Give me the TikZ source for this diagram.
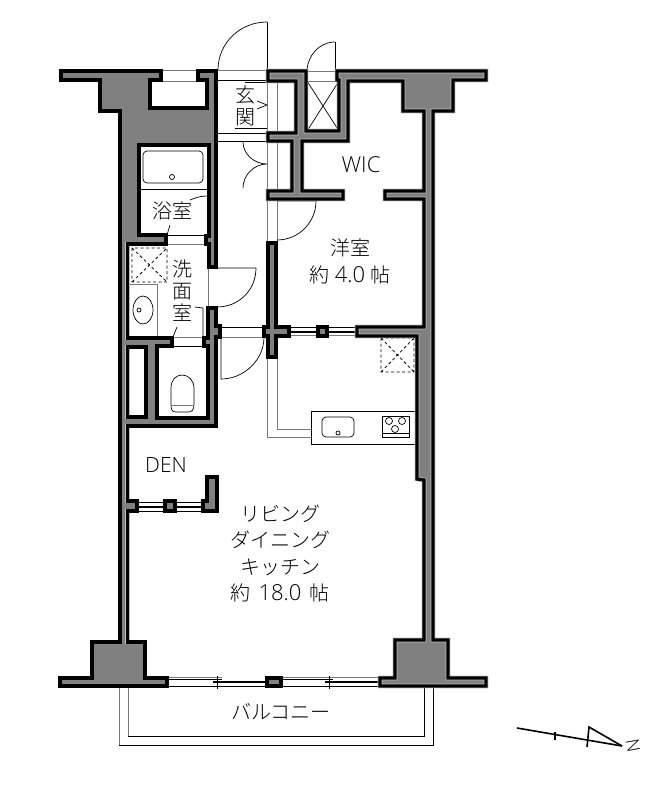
\documentclass[tikz,border=0pt]{standalone}
\usepackage{fontspec}
\IfFontExistsTF{Noto Sans CJK JP Light}{\setmainfont{Noto Sans CJK JP Light}}{\setmainfont{Noto Sans CJK JP}}
\IfFontExistsTF{Open Sans Light}{\newfontfamily\latinfont{Open Sans Light}}{\newfontfamily\latinfont{Open Sans}}
\definecolor{WallGray}{RGB}{128, 128, 128}
\definecolor{WallEdge}{RGB}{190, 190, 190}
\definecolor{ThinGray}{RGB}{120, 120, 120}
\newcommand{\digits}[2][5pt]{\hspace{#1}{\fontsize{22}{22}\selectfont\latinfont #2}\hspace{#1}}

\begin{document}
\begin{tikzpicture}[x=1pt, y=-1pt, every node/.style={font=\fontsize{20}{22}\selectfont, inner sep=0pt},
    wall/.style={even odd rule, fill=WallGray, draw=WallEdge, line width=4.6pt, postaction={draw=black, line width=3.2pt}},
    thin/.style={draw=black, line width=0.7pt},
    faint/.style={draw=ThinGray, line width=0.9pt},
    dashbox/.style={draw=black, line width=0.8pt, dash pattern=on 3pt off 2.5pt}]
    \useasboundingbox (0,0) rectangle (661,800);

    \draw[thin] (267,22) .. controls (240,22) and (218,43) .. (218,70);
    \draw[thin] (267,22) -- (267,70);
    \draw[faint] (162,70) -- (198,70) (162,81) -- (198,81);
    \draw[faint] (217,70) -- (267,70);
    \draw[thin] (217,80) -- (267,80) (217,133) -- (267,133) (217,141) -- (267,141);
    \draw[faint] (267,80) -- (267,243) (277,81) -- (277,243);
    \draw[thin] (245,82) -- (267,82) (235,128) -- (267,128);
    \draw[thin] (257,101) -- (267,105) -- (257,109);
    \draw[thin] (243,142) .. controls (243,154) and (254,164) .. (267,164) .. controls (254,164) and (243,175) .. (243,188);

    \draw[thin] (335,42) .. controls (319,42) and (307,56) .. (307,72);
    \draw[thin] (335,42) -- (335,72);
    \draw[faint] (307,71) -- (337,71) (307,81) -- (337,81);
    \draw[thin] (307,81) -- (339,131) (339,81) -- (307,131);
    \draw[thin] (277,201) -- (316,201) .. controls (316,222) and (299,240) .. (277,240);

    \draw[thin, rounded corners=4pt] (143,151) rectangle (203,183);
    \draw[thin] (172,177) circle (2.5);
    \draw[thin] (139,189) -- (208,189);
    \draw[thin] (207,196) .. controls (200,196) and (195,198) .. (190,200) (170,225) -- (167,235);
    \draw[thin] (167,235) -- (206,235);
    \draw[faint] (167,244) -- (206,244);

    \draw[dashbox] (132,248) rectangle (167,282) (132,282) -- (167,248) (132,248) -- (167,282);
    \draw[faint] (129,284) -- (157,284) -- (157,337);
    \draw[thin] (143,310) ellipse (10 and 14);
    \draw[thin] (139,310) circle (2);
    \draw[thin] (195,307) -- (203,308) -- (203,347) (177,327) -- (173,337);
    \draw[faint] (208,268) -- (208,307);
    \draw[thin] (217,268) -- (256,268) .. controls (256,290) and (239,307) .. (217,307);
    \draw[thin] (221,327) -- (264,327);
    \draw[faint] (173,337) -- (204,337) (221,337) -- (264,337);
    \draw[thin] (173,346) -- (204,346);
    \draw[thin] (221,337) -- (221,379) .. controls (244,379) and (264,360) .. (264,337);
    \draw[thin] (171,404) -- (171,388) .. controls (171,380) and (176,375) .. (182,375) .. controls (188,375) and (194,380) .. (194,388) -- (194,404) .. controls (194,410) and (192,412) .. (188,412) -- (176,412) .. controls (172,412) and (171,410) .. (171,404);
    \draw[faint] (171,405) -- (194,405);

    \draw[thin] (290,327) -- (318,327) (328,327) -- (357,327);
    \draw[draw=black, line width=1.3pt] (290,332) -- (318,332) (328,332) -- (357,332);
    \draw[faint] (290,335.5) -- (318,335.5) (328,335.5) -- (357,335.5);
    \draw[dashbox] (381,338) rectangle (414,372) (381,372) -- (414,338) (381,338) -- (414,372);
    \draw[faint] (267,357) -- (267,437) -- (311,437) (277,357) -- (277,429) -- (311,429);
    \draw[thin] (416,411) -- (311,411) -- (311,444) -- (416,444);
    \draw[thin, rounded corners=4pt] (322,417) rectangle (354,437);
    \draw[thin] (338,433) circle (2);
    \draw[thin] (382,416) rectangle (409,437);
    \draw[thin] (382,433) -- (409,433);
    \draw[thin] (389,421) circle (3.5) (402,421) circle (3.5) (395,429) circle (3.5);

    \draw[thin] (138,502) -- (165,502) (176,502) -- (203,502);
    \draw[draw=black, line width=1.2pt] (138,507) -- (165,507) (176,507) -- (203,507);
    \draw[thin] (138,511) -- (165,511) (176,511) -- (203,511);

    \draw[faint] (168,677) -- (222,677) (281,677) -- (379,677);
    \draw[draw=black, line width=1.1pt] (168,679.5) -- (222,679.5) (281,679.5) -- (333,679.5);
    \draw[draw=black, line width=1.2pt] (213,682) -- (266,682) (325,682) -- (380,682);
    \draw[thin] (168,686) -- (379,686);
    \draw[thin] (217,676) -- (217,689) (329,676) -- (329,689);
    \draw[faint] (119,687) -- (119,745);
    \draw[thin] (119,745) -- (433,745) -- (433,687);
    \draw[faint] (128,687) -- (128,736);
    \draw[thin] (128,736) -- (424,736) -- (424,687);

    \path[wall] (61,71) -- (161,71) -- (161,80) -- (150,80) -- (150,108) -- (207,108) -- (207,80) -- (198,80) -- (198,71) -- (216,71)
        -- (216,267) -- (209,267) -- (209,244) -- (206,244) -- (206,236) -- (209,236) -- (209,145) -- (139,145) -- (139,235)
        -- (166,235) -- (166,244) -- (127.5,244) -- (127.5,338) -- (172,338) -- (172,346) -- (157,346) -- (157,418) -- (208,418)
        -- (208,346) -- (204,346) -- (204,338) -- (208,338) -- (208,308) -- (216,308) -- (216,326) -- (220,326) -- (220,337)
        -- (216,337) -- (216,426) -- (127.5,426) -- (127.5,501) -- (137,501) -- (137,511) -- (127.5,511) -- (127.5,642) -- (145,642)
        -- (145,678) -- (167,678) -- (167,686) -- (60,686) -- (60,678) -- (92,678) -- (92,642) -- (120,642) -- (120,111)
        -- (100,111) -- (100,80) -- (61,80) -- cycle
        (127.5,347) -- (146,347) -- (146,417) -- (127.5,417) -- cycle;
    \path[wall] (165,501) rectangle (175,511);
    \path[wall] (207,477) -- (217,477) -- (217,511) -- (203,511) -- (203,501) -- (207,501) -- cycle;
    \path[wall] (267,678) rectangle (281,686);
    \path[wall] (268,71) -- (306,71) -- (306,131) -- (339,131) -- (339,80) -- (337,80) -- (337,71) -- (486,71) -- (486,80) -- (453,80)
        -- (453,111) -- (433,111) -- (433,640) -- (448,640) -- (448,678) -- (486,678) -- (486,686) -- (380,686) -- (380,678)
        -- (395,678) -- (395,640) -- (424,640) -- (424,480) -- (417,479) -- (417,336) -- (357,336) -- (357,327) -- (424,327)
        -- (424,199) -- (385,199) -- (385,191) -- (424,191) -- (424,111) -- (403,111) -- (403,81) -- (348,81) -- (348,141)
        -- (302,141) -- (302,191) -- (343,191) -- (343,199) -- (268,199) -- (268,191) -- (292,191) -- (292,141) -- (268,141)
        -- (268,133) -- (296,133) -- (296,81) -- (268,81) -- cycle;
    \path[wall] (268,243) -- (276,243) -- (276,327) -- (289,327) -- (289,336) -- (276,336) -- (276,357) -- (268,357) -- (268,336)
        -- (264,336) -- (264,327) -- (268,327) -- cycle;
    \path[wall] (318,327) rectangle (327,336);

    \node[align=center] (genkan) at (245,106) {玄\\関};
    \node[font=\fontsize{22}{22}\selectfont\latinfont] (wic) at (361,165) {WIC};
    \node[align=center, font=\fontsize{20}{27}\selectfont] (yoshitsu) at (350,261.5) {洋室\\約\digits{4.0}帖};
    \node (yokushitsu) at (172,211) {浴室};
    \node[align=center] (senmen) at (182,291) {洗\\面\\室};
    \node[font=\fontsize{21}{22}\selectfont\latinfont] (den) at (166,465) {DEN};
    \node[align=center, font=\fontsize{20}{26.5}\selectfont] (ldk) at (280,553.5) {リビング\\ダイニング\\キッチン\\約\digits[8pt]{18.0}帖};
    \node (balcony) at (281,712) {バルコニー};

    \draw[line width=1.6pt] (517,728) -- (622,746);
    \draw[line width=1.6pt] (555,732) -- (555,740);
    \draw[line width=1.6pt] (587,747) -- (589,727) -- (622,746);
    \node[rotate=-80, font=\fontsize{18}{18}\selectfont\latinfont] (north) at (633,746) {N};
\end{tikzpicture}
\end{document}
